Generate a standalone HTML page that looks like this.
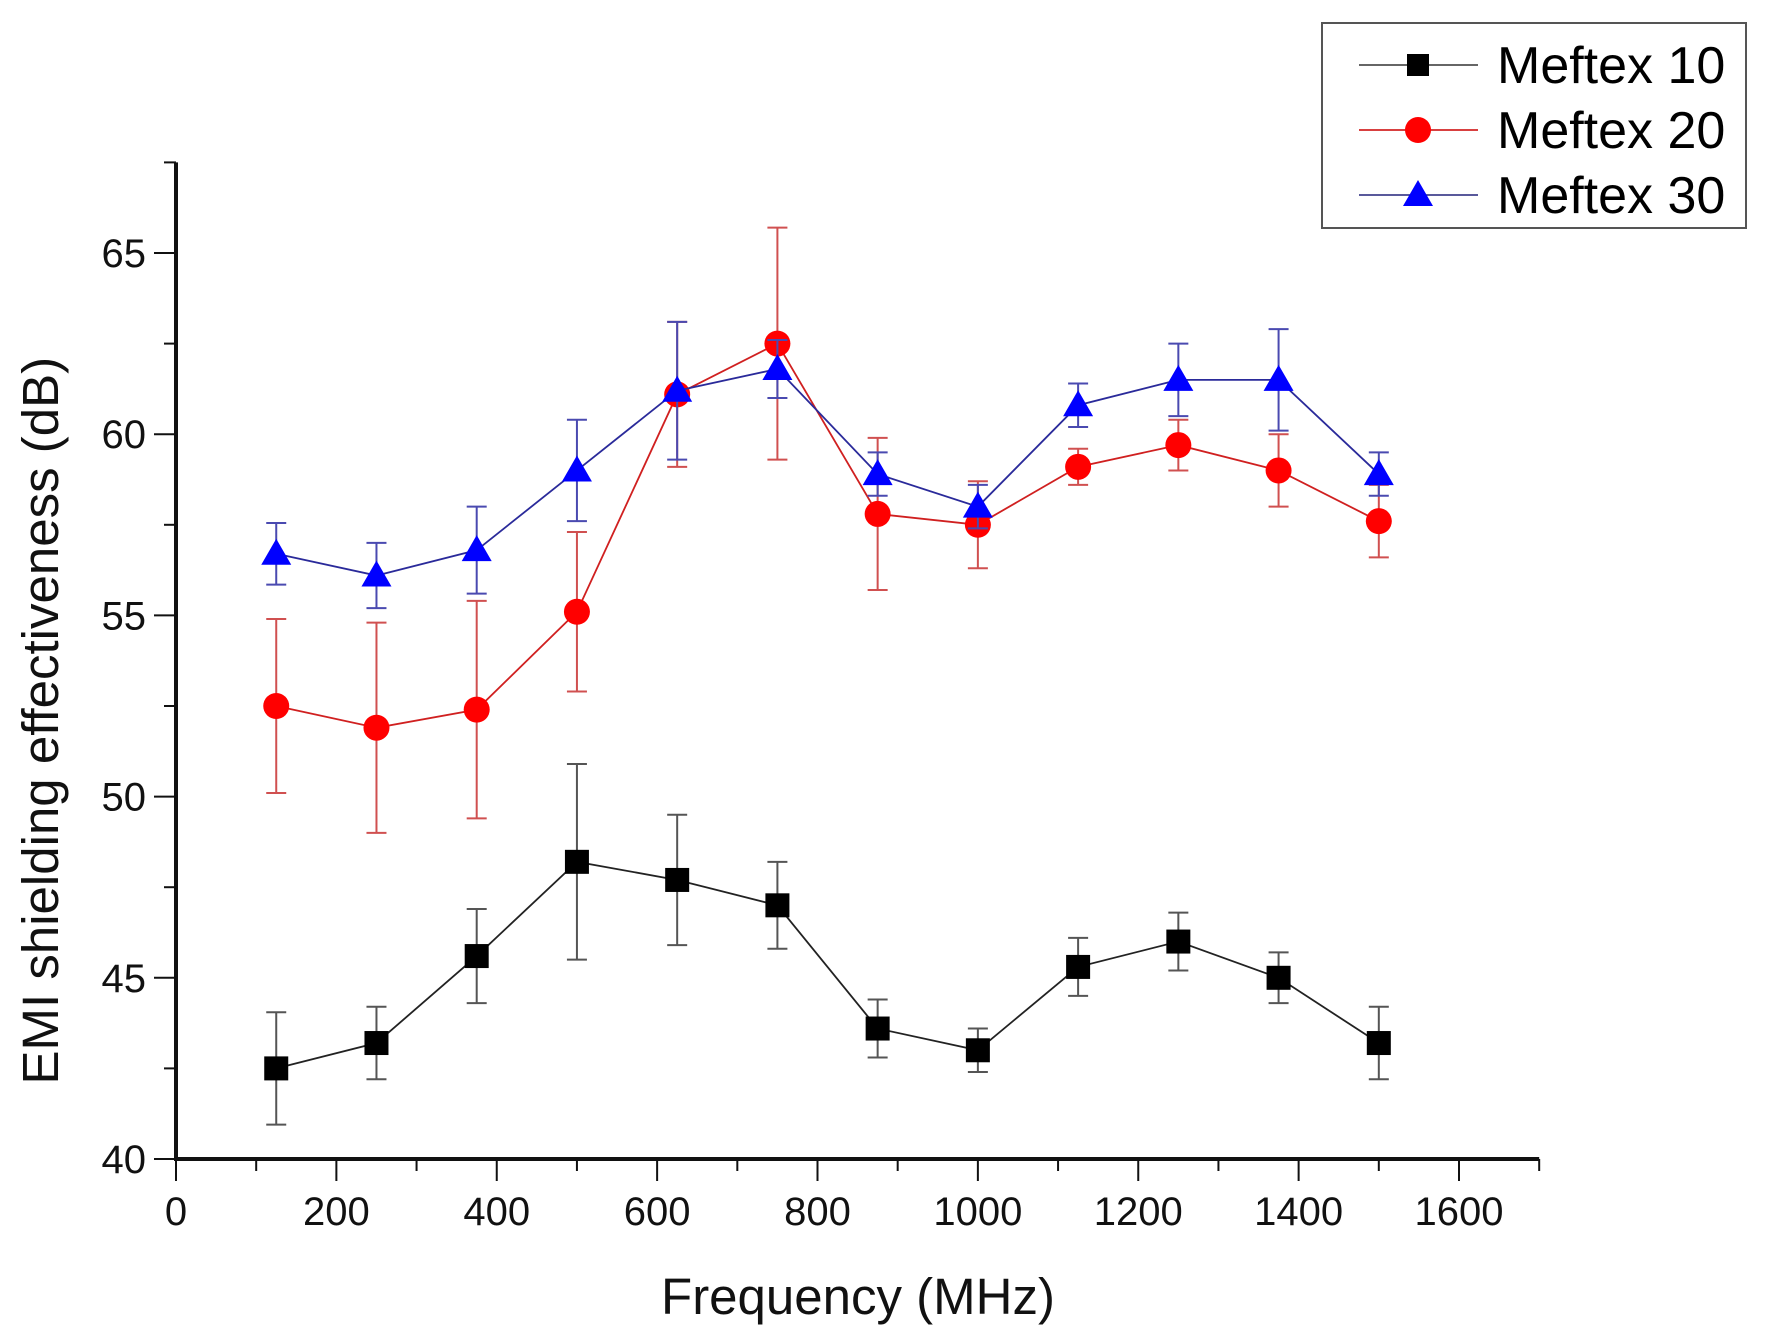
<!DOCTYPE html>
<html><head><meta charset="utf-8"><style>
body{margin:0;background:#fff}
svg{display:block}
text{font-family:"Liberation Sans",Arial,sans-serif}
</style></head><body>
<svg id="chart" width="1768" height="1342" viewBox="0 0 1768 1342" xmlns="http://www.w3.org/2000/svg">
<g id="axes"></g>
<g id="series"></g>
<g id="legend">
  <rect x="1322" y="23" width="424" height="205" fill="#fff" stroke="#555" stroke-width="2"/>
  <g>
    <line x1="1359" y1="65" x2="1478" y2="65" stroke="#333" stroke-width="1.5"/>
    <rect x="1407" y="54" width="22" height="22" fill="#000"/>
    <text x="1497" y="83" font-size="52">Meftex 10</text>
  </g>
  <g>
    <line x1="1359" y1="130" x2="1478" y2="130" stroke="#c00" stroke-width="1.5"/>
    <circle cx="1418" cy="130" r="13" fill="#f00"/>
    <text x="1497" y="148" font-size="52">Meftex 20</text>
  </g>
  <g>
    <line x1="1359" y1="195" x2="1478" y2="195" stroke="#22227a" stroke-width="1.5"/>
    <polygon points="1418,180 1433,206 1403,206" fill="#00f"/>
    <text x="1497" y="213" font-size="52">Meftex 30</text>
  </g>
</g>
</svg>
<script>
const freqs=[125,250,375,500,625,750,875,1000,1125,1250,1375,1500];
const m10=[42.5,43.2,45.6,48.2,47.7,47.0,43.6,43.0,45.3,46.0,45.0,43.2];
const m10err=[1.55,1.0,1.3,2.7,1.8,1.2,0.8,0.6,0.8,0.8,0.7,1.0];
const m20=[52.5,51.9,52.4,55.1,61.1,62.5,57.8,57.5,59.1,59.7,59.0,57.6];
const m20err=[2.4,2.9,3.0,2.2,2.0,3.2,2.1,1.2,0.5,0.7,1.0,1.0];
const m30=[56.7,56.1,56.8,59.0,61.2,61.8,58.9,58.0,60.8,61.5,61.5,58.9];
const m30err=[0.85,0.9,1.2,1.4,1.9,0.8,0.6,0.6,0.6,1.0,1.4,0.6];
const xTicks=[0,200,400,600,800,1000,1200,1400,1600];
const yTicks=[40,45,50,55,60,65];

const NS="http://www.w3.org/2000/svg";
const X0=176,X1=1459,Y40=1159,Y65=253;
const xs=v=>X0+(v/1600)*(X1-X0);
const ys=v=>Y40-(v-40)*(Y40-Y65)/25;
function mk(tag,attrs,parent){const e=document.createElementNS(NS,tag);for(const k in attrs)e.setAttribute(k,attrs[k]);parent.appendChild(e);return e;}
const axes=document.getElementById('axes');
const xEnd=xs(1700), yTop=ys(67.5);
let a=mk('line',{x1:X0-2,y1:Y40,x2:xEnd,y2:Y40,stroke:'#111','stroke-width':4},axes);


a=mk('line',{x1:X0,y1:Y40,x2:X0,y2:yTop,stroke:'#111','stroke-width':4},axes);


for(let v=0;v<=1700;v+=100){
  const major=v%200===0;
  const t=mk('line',{x1:xs(v),y1:Y40,x2:xs(v),y2:Y40+(major?22:12),stroke:'#111','stroke-width':2},axes);
  
  
}
xTicks.forEach(v=>{
  const t=mk('text',{x:xs(v),y:Y40+66,'font-size':40,'text-anchor':'middle',fill:'#111'},axes);
  t.textContent=v;
  
  
});
for(let v=40;v<=67.5;v+=2.5){
  const major=v%5===0;
  const t=mk('line',{x1:X0,y1:ys(v),x2:X0-(major?22:12),y2:ys(v),stroke:'#111','stroke-width':2},axes);
  
  
}
yTicks.forEach(v=>{
  const t=mk('text',{x:X0-30,y:ys(v)+14,'font-size':40,'text-anchor':'end',fill:'#111'},axes);
  t.textContent=v;
  
  
});
let tt=mk('text',{x:(X0+1540)/2,y:1314,'font-size':51,'text-anchor':'middle',fill:'#111'},axes);
tt.textContent='Frequency (MHz)';


tt=mk('text',{x:0,y:0,'font-size':51,'text-anchor':'middle',fill:'#111',transform:`translate(58,${(Y40+yTop)/2+60}) rotate(-90)`},axes);
tt.textContent='EMI shielding effectiveness (dB)';



const ser=document.getElementById('series');
function drawSeries(name,vals,errs,lineColor,errColor,fill,shape){
  const g=mk('g',{},ser);
  
  
  freqs.forEach((f,i)=>{
    const x=xs(f),yt=ys(vals[i]+errs[i]),yb=ys(vals[i]-errs[i]);
    const e=mk('path',{d:`M${x},${yt}V${yb}M${x-10},${yt}H${x+10}M${x-10},${yb}H${x+10}`,stroke:errColor,'stroke-width':2,fill:'none'},g);
    
    
  });
  const pts=freqs.map((f,i)=>xs(f)+','+ys(vals[i])).join(' ');
  const pl=mk('polyline',{points:pts,fill:'none',stroke:lineColor,'stroke-width':1.8},g);
  
  
  freqs.forEach((f,i)=>{
    const x=xs(f),y=ys(vals[i]);let m;
    if(shape==='sq')m=mk('rect',{x:x-12,y:y-12,width:24,height:24,fill:fill},g);
    else if(shape==='ci')m=mk('circle',{cx:x,cy:y,r:13,fill:fill},g);
    else m=mk('polygon',{points:`${x},${y-15} ${x+15},${y+11} ${x-15},${y+11}`,fill:fill},g);
    
    
  });
}
drawSeries('series-meftex-10',m10,m10err,'#222','#555','#000','sq');
drawSeries('series-meftex-20',m20,m20err,'#d02020','#d05050','#f00','ci');
drawSeries('series-meftex-30',m30,m30err,'#2a2a9a','#4a4ab0','#00f','tri');
</script>
</body></html>
